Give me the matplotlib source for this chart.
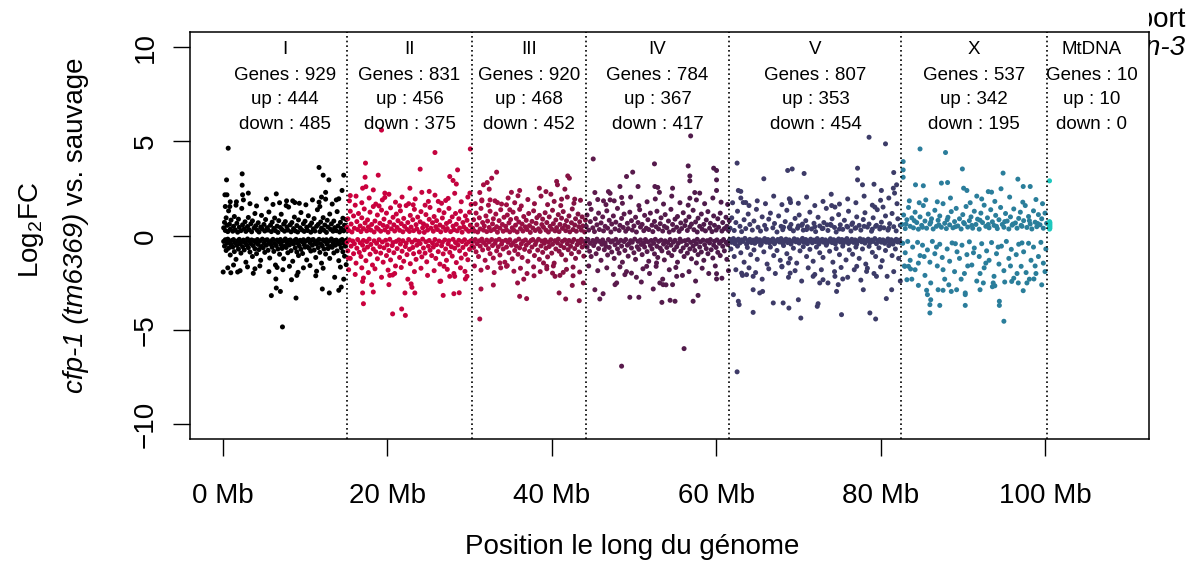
import numpy as np
import matplotlib.pyplot as plt
from matplotlib.colors import to_rgb
from matplotlib.transforms import Bbox, TransformedBbox

plt.rcParams['font.family'] = ['Liberation Sans', 'DejaVu Sans']
plt.rcParams['mathtext.default'] = 'regular'

# chromosomes (sizes in Mb) and DE summary
chrom_names = ["I", "II", "III", "IV", "V", "X", "MtDNA"]
chrom_len = [15.07, 15.28, 13.78, 17.49, 20.92, 17.72, 0.014]
n_genes = [929, 831, 920, 784, 807, 537, 10]
n_up = [444, 456, 468, 367, 353, 342, 10]
n_down = [485, 375, 452, 417, 454, 195, 0]

# (genome position in Mb, log2FC)
pts_I = [
    (0.1,.42),(0.2,.71),(0.3,.28),(0.4,.95),(0.5,.55),(0.6,.22),(0.7,1.32),(0.8,.61),(0.9,.35),(1.0,.83),(1.2,.24),(1.3,.5),(1.4,1.02),(1.5,.31),(1.7,.66),(1.8,.19),(1.9,.88),(2.0,.45),(2.2,.27),(2.3,1.45),(2.4,.58),(2.6,.37),(2.7,.74),(2.8,.23),(3.0,.49),(3.1,.97),(3.2,.32),(3.4,.63),(3.5,.21),(3.6,.79),(3.8,.41),(3.9,1.18),(4.0,.53),(4.2,.29),(4.3,.69),(4.4,.2),(4.6,.46),(4.7,1.08),(4.8,.36),(5.0,.6),(5.1,.25),(5.2,.86),(5.4,.43),(5.5,.3),(5.6,1.26),(5.8,.56),(5.9,.22),(6.0,.72),(6.2,.39),(6.3,.94),(6.4,.27),(6.6,.51),(6.7,.18),(6.8,.8),(7.0,.44),(7.1,1.14),(7.2,.33),(7.4,.62),(7.5,.24),(7.6,.75),(7.8,.47),(7.9,.3),(8.0,1.52),(8.2,.58),(8.3,.21),(8.4,.7),(8.6,.38),(8.7,.99),(8.8,.26),(9.0,.54),(9.1,.2),(9.2,.84),(9.4,.42),(9.5,1.23),(9.6,.31),(9.8,.64),(9.9,.23),(10.0,.77),(10.2,.45),(10.3,.28),(10.4,1.06),(10.6,.55),(10.7,.19),(10.8,.68),(11.0,.37),(11.1,.91),(11.2,.25),(11.4,.5),(11.5,1.38),(11.6,.6),(11.8,.22),(11.9,.73),(12.0,.4),(12.2,.96),(12.3,.29),(12.4,.57),(12.6,.18),(12.7,.82),(12.8,.46),(13.0,1.15),(13.1,.34),(13.2,.63),(13.4,.24),(13.5,.78),(13.6,.43),(13.8,.27),(13.9,1.28),(14.0,.52),(14.2,.2),(14.3,.71),(14.4,.39),(14.6,.93),(14.7,.26),(14.8,.56),(14.9,.33),(15.0,.86),
    (0.1,-.3),(0.2,-.55),(0.3,-.21),(0.4,-.78),(0.5,-.4),(0.6,-.18),(0.7,-.66),(0.8,-.33),(0.9,-1.02),(1.0,-.47),(1.1,-.25),(1.2,-.6),(1.3,-.2),(1.4,-.84),(1.5,-.38),(1.6,-1.25),(1.7,-.51),(1.8,-.27),(1.9,-.71),(2.0,-.19),(2.1,-.44),(2.2,-.92),(2.3,-.31),(2.4,-.58),(2.5,-.23),(2.6,-.75),(2.7,-.36),(2.8,-1.4),(2.9,-.49),(3.0,-.17),(3.1,-.63),(3.2,-.29),(3.3,-.86),(3.4,-.42),(3.5,-.22),(3.6,-1.1),(3.7,-.53),(3.8,-.26),(3.9,-.69),(4.0,-.35),(4.1,-.95),(4.2,-.2),(4.3,-.46),(4.4,-.73),(4.5,-.28),(4.6,-1.3),(4.7,-.57),(4.8,-.18),(4.9,-.64),(5.0,-.39),(5.1,-.88),(5.2,-.24),(5.3,-.5),(5.4,-.21),(5.5,-.77),(5.6,-.34),(5.7,-1.18),(5.8,-.45),(5.9,-.27),(6.0,-.61),(6.1,-.19),(6.2,-.83),(6.3,-.41),(6.4,-1.55),(6.5,-.52),(6.6,-.23),(6.7,-.7),(6.8,-.32),(6.9,-.98),(7.0,-.2),(7.1,-.48),(7.2,-.67),(7.3,-.29),(7.4,-1.22),(7.5,-.56),(7.6,-.17),(7.7,-.62),(7.8,-.37),(7.9,-.9),(8.0,-.25),(8.1,-.49),(8.2,-.22),(8.3,-.79),(8.4,-.35),(8.5,-1.35),(8.6,-.43),(8.7,-.26),(8.8,-.65),(8.9,-.19),(9.0,-.86),(9.1,-.4),(9.2,-1.05),(9.3,-.54),(9.4,-.24),(9.5,-.72),(9.6,-.31),(9.7,-.94),(9.8,-.21),(9.9,-.47),(10.0,-.6),(10.1,-.28),(10.2,-1.28),(10.3,-.58),(10.4,-.18),(10.5,-.66),(10.6,-.36),(10.7,-.81),(10.8,-.23),(10.9,-.5),(11.0,-.2),(11.1,-.76),(11.2,-.33),(11.3,-1.15),(11.4,-.44),(11.5,-.27),(11.6,-.63),(11.7,-.19),(11.8,-.88),(11.9,-.42),(12.0,-1.45),(12.1,-.53),(12.2,-.22),(12.3,-.7),(12.4,-.3),(12.5,-.97),(12.6,-.21),(12.7,-.46),(12.8,-.68),(12.9,-.28),(13.0,-1.2),(13.1,-.57),(13.2,-.17),(13.3,-.61),(13.4,-.38),(13.5,-.91),(13.6,-.25),(13.7,-.5),(13.8,-.23),(13.9,-.8),(14.0,-.34),(14.1,-1.32),(14.2,-.45),(14.3,-.26),(14.4,-.64),(14.5,-.2),(14.6,-.85),(14.7,-.4),(14.8,-1.08),(14.9,-.55),(15.0,-.24),
    (0.3,1.55),(0.9,1.8),(1.6,1.62),(2.5,1.9),(3.3,1.7),(4.1,1.58),(5.3,1.95),(6.1,1.66),(6.9,1.75),(7.7,1.6),(8.5,1.85),(9.3,1.72),(10.1,1.64),(10.9,1.9),(11.7,1.78),(12.5,2.3),(13.3,1.68),(14.1,1.96),(14.5,2.4),
    (0.6,-1.7),(1.3,-1.55),(2.1,-1.85),(3.0,-1.65),(3.9,-1.75),(4.5,-1.6),(5.6,-1.9),(6.6,-1.68),(7.3,-1.8),(8.1,-1.62),(9.0,-2.1),(9.8,-1.7),(10.6,-1.58),(11.4,-1.88),(12.2,-1.72),(13.6,-2.2),(14.3,-1.66),(14.7,-2.3),
    (0.65,4.64),(0.45,2.96),(2.35,3.28),(2.35,2.68),(0.5,2.17),(0.25,2.17),(3.1,2.26),(2.4,2.17),(6.5,2.22),(7.75,1.85),(8.75,1.76),(11.7,3.62),(12.2,3.21),(12.9,2.96),(14.7,3.21),(12.5,1.94),(12.0,2.05),(13.8,1.9),(11.8,1.55),(1.65,1.8),(0.85,1.55),
    (7.25,-4.83),(5.9,-3.17),(6.5,-2.77),(7.0,-2.95),(8.9,-3.3),(8.35,-2.33),(6.45,-2.29),(12.1,-2.82),(12.95,-3.03),(14.1,-2.89),(14.4,-2.72),(11.3,-2.12),(0.04,-1.92),(0.97,-1.96),(1.8,-1.92),(3.7,-1.99),(9.15,-1.94),(15.0,-1.53),
]

pts_II = [
    (15.1,.45),(15.2,.9),(15.3,.28),(15.5,1.3),(15.6,.62),(15.7,.2),(15.9,1.05),(16.0,.4),(16.1,1.62),(16.3,.75),(16.4,.33),(16.5,1.18),(16.7,.52),(16.8,.22),(16.9,.95),(17.1,.38),(17.2,1.42),(17.3,.68),(17.5,.26),(17.6,.84),(17.7,.47),(17.9,1.25),(18.0,.3),(18.1,.6),(18.3,1.55),(18.4,.2),(18.5,.78),(18.7,.43),(18.8,1.1),(18.9,.35),(19.1,.66),(19.2,.24),(19.3,1.36),(19.5,.55),(19.6,.88),(19.7,.31),(19.9,1.2),(20.0,.49),(20.1,.19),(20.3,.72),(20.4,1.48),(20.5,.37),(20.7,.98),(20.8,.58),(20.9,.25),(21.1,1.15),(21.2,.44),(21.3,.8),(21.5,.29),(21.6,1.32),(21.7,.64),(21.9,.21),(22.0,.92),(22.1,.5),(22.3,1.6),(22.4,.34),(22.5,.7),(22.7,.23),(22.8,1.08),(22.9,.46),(23.1,.85),(23.2,.27),(23.3,1.4),(23.5,.59),(23.6,.36),(23.7,.99),(23.9,.2),(24.0,.74),(24.1,1.28),(24.3,.42),(24.4,.63),(24.5,.18),(24.7,1.12),(24.8,.53),(24.9,.3),(25.1,.87),(25.2,1.5),(25.3,.4),(25.5,.69),(25.6,.24),(25.7,1.02),(25.9,.48),(26.0,.8),(26.1,.33),(26.3,1.35),(26.4,.57),(26.5,.21),(26.7,.94),(26.8,.45),(26.9,1.22),(27.1,.28),(27.2,.65),(27.3,.38),(27.5,1.45),(27.6,.76),(27.7,.22),(27.9,1.0),(28.0,.51),(28.1,.32),(28.3,1.18),(28.4,.61),(28.5,.26),(28.7,.9),(28.8,.41),(28.9,1.3),(29.1,.19),(29.2,.7),(29.3,.47),(29.5,1.05),(29.6,.35),(29.7,.82),(29.9,.24),(30.0,1.25),(30.1,.56),(30.3,.3),
    (15.4,1.85),(16.2,2.1),(16.9,1.75),(17.8,2.0),(18.6,1.68),(19.4,1.9),(20.2,2.2),(21.0,1.78),(21.8,2.05),(22.6,1.7),(23.4,1.95),(24.2,2.3),(25.0,1.82),(25.8,2.15),(26.6,1.72),(27.4,1.98),(28.2,2.25),(29.0,1.8),(29.8,2.05),(30.2,1.66),(17.4,2.6),(24.6,1.62),(19.0,1.58),
    (19.3,5.6),(17.35,3.85),(17.3,3.1),(17.0,2.52),(15.5,2.13),(18.3,2.43),(18.9,3.21),(19.7,2.26),(19.7,2.03),(25.8,4.41),(24.0,3.53),(22.75,2.52),(25.1,2.35),(27.6,3.14),(28.55,3.49),(28.0,2.93),(28.4,2.74),(30.1,4.6),(30.05,2.26),(26.2,1.82),(27.1,1.87),(21.5,1.59),(23.15,1.64),
    (15.1,-.35),(15.2,-.8),(15.4,-.22),(15.5,-1.2),(15.6,-.55),(15.8,-.28),(15.9,-.95),(16.0,-.42),(16.2,-1.45),(16.3,-.66),(16.4,-.2),(16.6,-.88),(16.7,-.37),(16.8,-1.1),(17.0,-.5),(17.1,-.25),(17.2,-.74),(17.4,-1.32),(17.5,-.31),(17.6,-.6),(17.8,-.18),(17.9,-.98),(18.0,-.46),(18.2,-1.55),(18.3,-.7),(18.4,-.27),(18.6,-.85),(18.7,-.4),(18.8,-1.22),(19.0,-.21),(19.1,-.58),(19.2,-.92),(19.4,-.33),(19.5,-1.4),(19.6,-.64),(19.8,-.24),(19.9,-1.05),(20.0,-.48),(20.2,-.78),(20.3,-.19),(20.4,-1.28),(20.6,-.52),(20.7,-.36),(20.8,-.9),(21.0,-1.6),(21.1,-.3),(21.2,-.68),(21.4,-.22),(21.5,-1.15),(21.6,-.44),(21.8,-.82),(21.9,-.26),(22.0,-1.35),(22.2,-.57),(22.3,-.39),(22.4,-1.0),(22.6,-.2),(22.7,-.72),(22.8,-1.48),(23.0,-.34),(23.1,-.62),(23.2,-.95),(23.4,-.23),(23.5,-1.25),(23.6,-.5),(23.8,-.29),(23.9,-.86),(24.0,-.41),(24.2,-1.12),(24.3,-.18),(24.4,-.65),(24.6,-.92),(24.7,-.32),(24.8,-1.38),(25.0,-.55),(25.1,-.25),(25.2,-.77),(25.4,-1.05),(25.5,-.38),(25.6,-.6),(25.8,-.2),(25.9,-1.2),(26.0,-.47),(26.2,-.84),(26.3,-.28),(26.4,-1.5),(26.6,-.53),(26.7,-.35),(26.8,-.96),(27.0,-.22),(27.1,-.7),(27.2,-1.3),(27.4,-.43),(27.5,-.26),(27.6,-.88),(27.8,-.58),(27.9,-1.08),(28.0,-.19),(28.2,-.66),(28.3,-.36),(28.4,-1.42),(28.6,-.49),(28.7,-.24),(28.8,-.8),(29.0,-1.18),(29.1,-.31),(29.2,-.62),(29.4,-.21),(29.5,-.98),(29.6,-.45),(29.8,-1.27),(29.9,-.33),(30.0,-.72),(30.2,-.25),(30.3,-.55),
    (15.3,-1.8),(16.1,-2.05),(16.9,-1.7),(17.7,-1.95),(18.5,-1.75),(19.3,-2.2),(20.1,-1.82),(20.9,-2.0),(21.7,-1.68),(22.5,-2.3),(23.3,-1.9),(24.1,-1.72),(24.9,-2.1),(25.7,-1.85),(26.5,-2.4),(27.3,-1.78),(28.1,-2.0),(28.9,-1.7),(29.7,-2.15),(18.1,-2.6),(22.9,-2.55),(26.9,-1.62),
    (17.1,-3.6),(17.0,-3.03),(17.0,-2.42),(17.1,-2.24),(18.3,-2.98),(20.65,-4.14),(21.75,-3.88),(22.2,-4.22),(20.3,-2.1),(20.65,-2.08),(20.2,-2.59),(23.35,-3.03),(22.15,-3.03),(23.0,-2.73),(26.8,-3.16),(28.1,-3.07),(28.75,-3.02),(26.4,-2.42),(27.6,-2.15),(28.2,-2.15),(29.45,-1.89),(29.5,-2.29),(15.25,-1.18),
]

pts_III = [
    (30.4,.4),(30.5,.85),(30.6,.25),(30.8,1.2),(30.9,.58),(31.0,.2),(31.2,.95),(31.3,.36),(31.4,1.45),(31.6,.7),(31.7,.3),(31.8,.52),(32.0,1.05),(32.1,.22),(32.2,.78),(32.4,.44),(32.5,1.3),(32.6,.27),(32.8,.63),(32.9,.9),(33.0,.34),(33.2,1.15),(33.3,.48),(33.4,.19),(33.6,.8),(33.7,.4),(33.8,1.38),(34.0,.6),(34.1,.24),(34.2,.98),(34.4,.5),(34.5,.31),(34.6,1.1),(34.8,.68),(34.9,.21),(35.0,.86),(35.2,.42),(35.3,1.25),(35.4,.29),(35.6,.56),(35.7,.92),(35.8,.2),(36.0,.73),(36.1,1.4),(36.2,.38),(36.4,.62),(36.5,.25),(36.6,1.02),(36.8,.47),(36.9,.82),(37.0,.33),(37.2,1.18),(37.3,.54),(37.4,.18),(37.6,.76),(37.7,.41),(37.8,1.32),(38.0,.28),(38.1,.66),(38.2,.96),(38.4,.37),(38.5,1.08),(38.6,.23),(38.8,.59),(38.9,.88),(39.0,.45),(39.2,1.22),(39.3,.3),(39.4,.7),(39.6,.2),(39.7,1.0),(39.8,.5),(40.0,.35),(40.1,1.35),(40.2,.64),(40.4,.26),(40.5,.84),(40.6,.43),(40.8,1.12),(40.9,.22),(41.0,.6),(41.2,.93),(41.3,.39),(41.4,1.28),(41.6,.55),(41.7,.27),(41.8,.8),(42.0,.46),(42.1,1.05),(42.2,.21),(42.4,.69),(42.5,1.42),(42.6,.33),(42.8,.57),(42.9,.9),(43.0,.24),(43.2,1.15),(43.3,.48),(43.4,.74),(43.6,.3),(43.7,1.0),(43.8,.52),(44.0,.2),(44.1,.83),
    (30.7,1.7),(31.5,1.9),(32.3,1.62),(33.1,1.85),(33.9,1.68),(34.7,2.0),(35.5,1.75),(36.3,1.58),(37.1,1.92),(37.9,1.7),(38.7,2.1),(39.5,1.65),(40.3,1.82),(41.1,1.6),(41.9,2.05),(42.7,1.72),(43.5,1.88),(35.1,2.3),(39.9,2.2),
    (33.3,3.37),(32.15,2.82),(32.7,3.05),(31.7,2.7),(31.25,2.29),(32.4,2.47),(31.5,1.85),(32.5,1.9),(33.4,1.76),(36.1,2.4),(35.9,2.12),(38.5,2.52),(39.3,2.34),(40.6,2.88),(40.7,2.7),(41.95,3.17),(42.15,3.05),(41.6,2.47),(41.2,1.94),(42.8,1.94),(34.5,1.64),(34.9,1.38),
    (30.4,-.3),(30.5,-.62),(30.7,-.2),(30.8,-.85),(30.9,-.42),(31.1,-1.1),(31.2,-.27),(31.3,-.55),(31.5,-.18),(31.6,-.75),(31.7,-.36),(31.9,-1.3),(32.0,-.48),(32.1,-.23),(32.3,-.68),(32.4,-.32),(32.5,-.95),(32.7,-.2),(32.8,-.52),(32.9,-1.18),(33.1,-.4),(33.2,-.26),(33.3,-.8),(33.5,-.58),(33.6,-.19),(33.7,-1.02),(33.9,-.44),(34.0,-.3),(34.1,-.7),(34.3,-1.4),(34.4,-.24),(34.5,-.6),(34.7,-.35),(34.8,-.9),(34.9,-.21),(35.1,-.5),(35.2,-1.22),(35.3,-.38),(35.5,-.78),(35.6,-.27),(35.7,-.55),(35.9,-.98),(36.0,-.18),(36.1,-.64),(36.3,-.43),(36.4,-1.15),(36.5,-.29),(36.7,-.72),(36.8,-.22),(36.9,-.5),(37.1,-1.35),(37.2,-.37),(37.3,-.83),(37.5,-.25),(37.6,-.6),(37.7,-.2),(37.9,-1.05),(38.0,-.46),(38.1,-.32),(38.3,-.76),(38.4,-.19),(38.5,-1.25),(38.7,-.54),(38.8,-.28),(38.9,-.88),(39.1,-.4),(39.2,-.23),(39.3,-.66),(39.5,-1.12),(39.6,-.34),(39.7,-.57),(39.9,-.21),(40.0,-.92),(40.1,-.45),(40.3,-1.45),(40.4,-.26),(40.5,-.7),(40.7,-.38),(40.8,-.18),(40.9,-.82),(41.1,-.52),(41.2,-1.0),(41.3,-.3),(41.5,-.63),(41.6,-.22),(41.7,-1.28),(41.9,-.42),(42.0,-.74),(42.1,-.25),(42.3,-.56),(42.4,-.95),(42.5,-.33),(42.7,-.2),(42.8,-.68),(42.9,-1.2),(43.1,-.47),(43.2,-.29),(43.3,-.86),(43.5,-.37),(43.6,-.19),(43.7,-.6),(43.9,-1.08),(44.0,-.31),(44.1,-.5),
    (30.6,-1.6),(31.4,-1.82),(32.2,-1.68),(33.0,-1.95),(33.8,-1.7),(34.6,-1.58),(35.4,-1.88),(36.2,-1.72),(37.0,-2.0),(37.8,-1.65),(38.6,-1.9),(39.4,-1.75),(40.2,-1.6),(41.0,-2.1),(41.8,-1.78),(42.6,-1.66),(43.4,-1.92),(36.6,-2.3),
    (31.25,-4.41),(31.4,-2.82),(32.9,-2.61),(35.85,-2.5),(36.1,-3.21),(36.95,-3.33),(37.85,-2.12),(40.1,-1.98),(40.4,-2.15),(41.4,-1.94),(40.9,-3.03),(41.7,-3.35),(42.5,-2.63),(42.6,-2.12),(43.35,-3.44),(43.85,-2.5),(33.7,-1.44),(34.5,-1.62),(39.0,-1.44),(39.4,-1.62),
]

pts_IV = [
    (44.2,.5),(44.3,1.1),(44.5,.3),(44.7,.75),(44.8,1.4),(45.0,.42),(45.2,.22),(45.3,.9),(45.5,.58),(45.7,1.2),(45.8,.33),(46.0,.68),(46.2,1.0),(46.3,.26),(46.5,.5),(46.7,1.32),(46.8,.4),(47.0,.82),(47.2,.2),(47.3,.62),(47.5,1.05),(47.7,.36),(47.8,.72),(48.0,1.45),(48.2,.28),(48.3,.55),(48.5,.92),(48.7,.44),(48.8,1.15),(49.0,.24),(49.2,.66),(49.3,.38),(49.5,1.25),(49.7,.8),(49.8,.3),(50.0,.52),(50.2,.98),(50.3,.2),(50.5,.7),(50.7,1.38),(50.8,.46),(51.0,.6),(51.2,.27),(51.3,1.08),(51.5,.4),(51.7,.85),(51.8,.33),(52.0,1.2),(52.2,.56),(52.3,.22),(52.5,.76),(52.7,.48),(52.8,1.3),(53.0,.36),(53.2,.64),(53.3,.95),(53.5,.25),(53.7,.5),(53.8,1.12),(54.0,.42),(54.2,.78),(54.3,.2),(54.5,1.4),(54.7,.6),(54.8,.3),(55.0,.88),(55.2,.45),(55.3,1.02),(55.5,.23),(55.7,.68),(55.8,.38),(56.0,1.22),(56.2,.54),(56.3,.8),(56.5,.28),(56.7,1.0),(56.8,.47),(57.0,.62),(57.2,1.35),(57.3,.32),(57.5,.73),(57.7,.2),(57.8,.93),(58.0,.5),(58.2,1.15),(58.3,.35),(58.5,.6),(58.7,.26),(58.8,.84),(59.0,1.28),(59.2,.4),(59.3,.66),(59.5,.22),(59.7,1.05),(59.8,.55),(60.0,.3),(60.2,.9),(60.3,.45),(60.5,1.2),(60.7,.25),(60.8,.7),(61.0,.38),(61.2,.98),(61.3,.5),(61.5,.28),(61.6,.8),
    (44.6,1.7),(45.6,1.92),(46.6,1.65),(47.6,1.85),(48.6,1.72),(49.6,2.05),(50.6,1.6),(51.6,1.8),(52.6,1.95),(53.6,1.68),(54.6,2.1),(55.6,1.75),(56.6,1.62),(57.6,1.9),(58.6,1.7),(59.6,2.0),(60.6,1.78),(61.4,1.66),(53.1,2.3),(47.1,2.25),
    (45.05,4.07),(56.9,5.29),(52.5,3.81),(56.6,3.7),(56.8,3.17),(56.8,2.91),(49.85,3.37),(49.1,3.14),(59.7,3.58),(60.05,3.46),(60.05,2.96),(60.05,2.4),(52.55,2.61),(52.9,2.56),(50.5,2.61),(48.3,2.61),(54.7,2.52),(56.8,1.99),(57.4,2.29),(58.0,2.26),(46.9,2.34),(45.25,2.29),(46.3,1.85),(47.1,1.9),(48.5,2.03),
    (44.2,-.28),(44.3,-.6),(44.4,-.2),(44.6,-.82),(44.7,-.4),(44.8,-1.1),(45.0,-.25),(45.1,-.52),(45.3,-.35),(45.4,-.95),(45.5,-.18),(45.7,-.68),(45.8,-.3),(46.0,-1.3),(46.1,-.45),(46.2,-.22),(46.4,-.74),(46.5,-.38),(46.6,-.56),(46.8,-1.02),(46.9,-.2),(47.0,-.62),(47.2,-.33),(47.3,-.86),(47.4,-.27),(47.6,-1.2),(47.7,-.48),(47.8,-.19),(48.0,-.7),(48.1,-.36),(48.2,-.92),(48.4,-.24),(48.5,-.55),(48.6,-1.4),(48.8,-.31),(48.9,-.78),(49.0,-.2),(49.2,-.5),(49.3,-1.08),(49.4,-.42),(49.6,-.26),(49.7,-.65),(49.8,-.34),(50.0,-.9),(50.1,-.18),(50.2,-1.25),(50.4,-.58),(50.5,-.3),(50.6,-.72),(50.8,-.22),(50.9,-.46),(51.0,-1.0),(51.2,-.38),(51.3,-.6),(51.4,-.2),(51.6,-.84),(51.7,-.32),(51.8,-1.35),(52.0,-.52),(52.1,-.25),(52.2,-.7),(52.4,-.4),(52.5,-.96),(52.6,-.19),(52.8,-.56),(52.9,-1.15),(53.0,-.3),(53.2,-.66),(53.3,-.23),(53.4,-.8),(53.6,-.44),(53.7,-1.28),(53.8,-.27),(54.0,-.62),(54.1,-.36),(54.2,-.9),(54.4,-.2),(54.5,-.5),(54.6,-1.05),(54.8,-.34),(54.9,-.74),(55.0,-.24),(55.2,-.58),(55.3,-1.4),(55.4,-.4),(55.6,-.18),(55.7,-.82),(55.8,-.3),(56.0,-.64),(56.1,-1.1),(56.2,-.26),(56.4,-.48),(56.5,-.92),(56.6,-.21),(56.8,-.7),(56.9,-.35),(57.0,-1.22),(57.2,-.55),(57.3,-.28),(57.4,-.78),(57.6,-.42),(57.7,-.19),(57.8,-1.0),(58.0,-.6),(58.1,-.32),(58.2,-.86),(58.4,-.23),(58.5,-1.3),(58.6,-.47),(58.8,-.68),(58.9,-.26),(59.0,-.95),(59.2,-.38),(59.3,-.2),(59.4,-.74),(59.6,-1.18),(59.7,-.5),(59.8,-.29),(60.0,-.62),(60.1,-.22),(60.2,-.88),(60.4,-.4),(60.5,-1.05),(60.6,-.3),(60.8,-.56),(60.9,-.2),(61.0,-.8),(61.2,-.35),(61.3,-1.25),(61.4,-.46),(61.6,-.25),
    (44.5,-1.6),(45.6,-1.85),(46.7,-1.7),(47.5,-2.05),(48.3,-1.65),(49.1,-1.9),(50.3,-2.2),(51.1,-1.75),(51.9,-2.0),(52.7,-1.62),(53.5,-2.3),(54.3,-1.8),(55.1,-1.68),(55.9,-2.1),(56.7,-1.9),(57.5,-2.4),(58.3,-1.72),(59.1,-2.0),(59.9,-1.6),(60.7,-2.25),(61.5,-1.85),(53.9,-2.6),(50.9,-2.45),
    (56.1,-5.98),(48.5,-6.91),(49.5,-3.26),(50.6,-3.26),(53.4,-3.53),(54.4,-3.42),(55.0,-3.47),(57.2,-3.47),(57.8,-3.16),(45.85,-3.35),(46.25,-3.07),(47.7,-2.59),(47.9,-2.5),(48.9,-2.06),(49.7,-1.98),(52.35,-2.82),(53.15,-2.5),(53.55,-2.59),(54.7,-2.59),(60.05,-2.01),(60.05,-2.29),(51.55,-1.62),(52.75,-1.44),(55.2,-2.15),(57.6,-1.44),(45.25,-2.86),
]

pts_V = [
    (61.7,.4),(61.9,.95),(62.2,.28),(62.4,.7),(62.6,1.3),(62.9,.5),(63.1,.22),(63.4,.85),(63.6,.38),(63.9,1.15),(64.1,.6),(64.4,.3),(64.6,.78),(64.9,1.4),(65.1,.45),(65.4,.25),(65.6,1.0),(65.9,.55),(66.1,.35),(66.4,.88),(66.6,1.2),(66.9,.42),(67.1,.65),(67.4,.2),(67.6,1.05),(67.9,.5),(68.1,.32),(68.4,.75),(68.6,1.35),(68.9,.45),(69.1,.6),(69.4,.26),(69.6,.92),(69.9,.4),(70.1,1.1),(70.4,.55),(70.6,.3),(70.9,.8),(71.1,.48),(71.4,1.25),(71.6,.36),(71.9,.66),(72.1,.22),(72.4,.98),(72.6,.52),(72.9,.38),(73.1,.7),(73.4,1.45),(73.6,.28),(73.9,.6),(74.1,.9),(74.4,.44),(74.6,.2),(74.9,1.12),(75.1,.58),(75.4,.34),(75.6,.82),(75.9,.5),(76.1,1.3),(76.4,.25),(76.6,.68),(76.9,.4),(77.1,1.0),(77.4,.55),(77.6,.3),(77.9,.86),(78.1,1.22),(78.4,.46),(78.6,.62),(78.9,.24),(79.1,.95),(79.4,.5),(79.6,1.38),(79.9,.36),(80.1,.72),(80.4,.42),(80.6,1.05),(80.9,.3),(81.1,.64),(81.4,1.18),(81.6,.48),(81.9,.26),(82.1,.9),(82.4,.55),
    (68.2,.45),(69.0,.38),(70.0,.52),(71.0,.33),(72.0,.48),(73.0,.4),(74.0,.55),(75.0,.36),(76.0,.46),(77.0,.42),(78.0,.5),(79.0,.35),(80.0,.45),(81.0,.4),(70.5,.62),(73.5,.58),(76.5,.6),(79.5,.55),
    (62.0,1.75),(63.0,2.0),(64.0,1.6),(65.0,1.85),(66.0,1.7),(67.0,2.1),(68.0,1.65),(69.0,1.9),(70.0,1.72),(71.0,2.05),(72.0,1.6),(73.0,1.82),(74.0,2.2),(75.0,1.68),(76.0,1.95),(77.0,1.75),(78.0,2.1),(79.0,1.62),(80.0,1.88),(81.0,2.0),(82.0,1.7),
    (62.55,3.85),(65.8,3.02),(68.7,3.46),(69.25,3.54),(70.7,3.3),(78.6,5.22),(80.6,4.87),(81.6,3.35),(77.2,3.58),(77.2,2.96),(77.8,2.7),(79.2,2.73),(80.1,2.4),(81.55,2.52),(81.7,2.26),(81.95,2.7),(62.7,2.4),(63.0,2.35),(63.3,1.76),(63.6,1.76),(68.9,1.96),(69.05,1.76),(74.05,1.6),(74.45,1.52),(79.3,1.52),(80.3,1.52),
    (61.7,-.2),(61.9,-.35),(62.1,-.15),(62.3,-.42),(62.5,-.25),(62.7,-.18),(62.9,-.38),(63.1,-.22),(63.3,-.3),(63.5,-.14),(63.7,-.45),(63.9,-.26),(64.1,-.19),(64.3,-.36),(64.5,-.23),(64.7,-.4),(64.9,-.16),(65.1,-.3),(65.3,-.21),(65.5,-.43),(65.7,-.27),(65.9,-.15),(66.1,-.34),(66.3,-.2),(66.5,-.38),(66.7,-.24),(66.9,-.17),(67.1,-.42),(67.3,-.28),(67.5,-.2),(67.7,-.33),(67.9,-.15),(68.1,-.4),(68.3,-.25),(68.5,-.18),(68.7,-.36),(68.9,-.22),(69.1,-.44),(69.3,-.29),(69.5,-.16),(69.7,-.32),(69.9,-.21),(70.1,-.39),(70.3,-.26),(70.5,-.14),(70.7,-.35),(70.9,-.2),(71.1,-.42),(71.3,-.27),(71.5,-.18),(71.7,-.37),(71.9,-.23),(72.1,-.31),(72.3,-.15),(72.5,-.44),(72.7,-.25),(72.9,-.19),(73.1,-.34),(73.3,-.22),(73.5,-.4),(73.7,-.28),(73.9,-.16),(74.1,-.36),(74.3,-.21),(74.5,-.43),(74.7,-.26),(74.9,-.17),(75.1,-.33),(75.3,-.2),(75.5,-.38),(75.7,-.24),(75.9,-.15),(76.1,-.41),(76.3,-.29),(76.5,-.19),(76.7,-.35),(76.9,-.22),(77.1,-.45),(77.3,-.27),(77.5,-.16),(77.7,-.32),(77.9,-.21),(78.1,-.39),(78.3,-.25),(78.5,-.18),(78.7,-.37),(78.9,-.23),(79.1,-.3),(79.3,-.15),(79.5,-.42),(79.7,-.26),(79.9,-.2),(80.1,-.34),(80.3,-.22),(80.5,-.4),(80.7,-.28),(80.9,-.17),(81.1,-.36),(81.3,-.21),(81.5,-.44),(81.7,-.27),(81.9,-.19),(82.1,-.33),(82.3,-.23),(82.5,-.38),
    (62.0,-.28),(63.0,-.3),(64.0,-.32),(65.0,-.26),(66.0,-.29),(67.0,-.31),(68.0,-.27),(69.0,-.33),(70.0,-.28),(71.0,-.3),(72.0,-.26),(73.0,-.32),(74.0,-.29),(75.0,-.27),(76.0,-.31),(77.0,-.28),(78.0,-.3),(79.0,-.26),(80.0,-.3),(81.0,-.28),(82.0,-.31),(68.6,-.3),(70.6,-.3),(72.6,-.31),(74.6,-.29),(76.6,-.3),(78.6,-.28),
    (61.8,-.7),(62.2,-1.1),(62.6,-.55),(63.0,-.9),(63.4,-1.4),(63.8,-.62),(64.2,-1.0),(64.6,-.75),(65.0,-1.25),(65.4,-.5),(65.8,-.85),(66.2,-1.5),(66.6,-.6),(67.0,-1.05),(67.4,-.78),(67.8,-1.3),(68.2,-.52),(68.6,-.95),(69.0,-1.2),(69.4,-.66),(69.8,-1.45),(70.2,-.8),(70.6,-.58),(71.0,-1.1),(71.4,-.72),(71.8,-1.35),(72.2,-.6),(72.6,-.9),(73.0,-1.15),(73.4,-.5),(73.8,-.82),(74.2,-1.4),(74.6,-.68),(75.0,-1.0),(75.4,-.55),(75.8,-1.28),(76.2,-.75),(76.6,-.98),(77.0,-.6),(77.4,-1.2),(77.8,-.7),(78.2,-1.5),(78.6,-.56),(79.0,-.88),(79.4,-1.1),(79.8,-.64),(80.2,-1.32),(80.6,-.78),(81.0,-.52),(81.4,-1.05),(81.8,-.7),(82.2,-1.2),
    (62.4,-1.8),(63.2,-2.1),(64.0,-1.7),(64.8,-1.95),(65.6,-2.3),(66.4,-1.75),(67.2,-2.0),(68.0,-1.65),(68.8,-2.2),(69.6,-1.85),(70.4,-2.4),(71.2,-1.7),(72.0,-2.05),(72.8,-1.8),(73.6,-2.5),(74.4,-1.9),(75.2,-1.68),(76.0,-2.2),(76.8,-1.8),(77.6,-2.35),(78.4,-1.72),(79.2,-2.0),(80.0,-1.65),(80.8,-2.15),(81.6,-1.9),(82.4,-2.4),
    (62.55,-7.21),(64.5,-4.06),(70.3,-4.36),(75.25,-4.18),(78.7,-4.09),(79.4,-4.41),(66.95,-3.56),(68.15,-3.56),(68.85,-3.83),(70.0,-3.39),(72.3,-3.74),(72.4,-3.6),(74.65,-2.95),(74.85,-2.59),(77.9,-2.86),(80.7,-3.33),(81.35,-2.86),(62.7,-3.47),(62.8,-3.65),(62.1,-3.12),(64.5,-2.86),(65.3,-3.03),(65.65,-2.95),(63.1,-1.98),(63.7,-2.06),(64.5,-2.15),(68.0,-1.62),(68.8,-1.44),(69.0,-1.98),(71.8,-2.15),(72.6,-2.5),(73.0,-2.33),(74.45,-2.15),(75.4,-2.29),(77.1,-1.62),(78.3,-1.89),(79.5,-2.15),
]

pts_X = [
    (82.6,.6),(82.8,1.1),(83.0,.38),(83.2,.85),(83.4,1.5),(83.6,.5),(83.8,.95),(84.0,.42),(84.2,1.25),(84.4,.7),(84.6,.35),(84.8,1.0),(85.0,.55),(85.2,1.6),(85.4,.78),(85.6,.4),(85.8,1.15),(86.0,.62),(86.2,.9),(86.4,.36),(86.6,1.35),(86.8,.5),(87.0,.82),(87.2,1.05),(87.4,.45),(87.6,1.7),(87.8,.66),(88.0,.38),(88.2,.98),(88.4,.58),(88.6,1.28),(88.8,.42),(89.0,.75),(89.2,1.45),(89.4,.52),(89.6,.9),(89.8,.36),(90.0,1.12),(90.2,.64),(90.4,1.55),(90.6,.46),(90.8,.8),(91.0,1.0),(91.2,.4),(91.4,1.3),(91.6,.6),(91.8,.88),(92.0,.35),(92.2,1.2),(92.4,.7),(92.6,1.62),(92.8,.5),(93.0,.95),(93.2,.42),(93.4,1.38),(93.6,.74),(93.8,.55),(94.0,1.08),(94.2,.38),(94.4,.85),(94.6,1.5),(94.8,.6),(95.0,.45),(95.2,1.18),(95.4,.78),(95.6,.36),(95.8,1.0),(96.0,.56),(96.2,1.42),(96.4,.68),(96.6,.4),(96.8,.92),(97.0,1.25),(97.2,.5),(97.4,.8),(97.6,1.6),(97.8,.44),(98.0,1.02),(98.2,.62),(98.4,.36),(98.6,1.32),(98.8,.72),(99.0,.48),(99.2,1.12),(99.4,.58),(99.6,.9),(99.8,.4),(100.0,1.2),(100.2,.66),
    (83.1,.62),(84.1,.8),(85.1,.45),(86.1,.72),(87.1,.58),(88.1,.85),(89.1,.48),(90.1,.7),(91.1,.55),(92.1,.82),(93.1,.6),(94.1,.5),(95.1,.75),(96.1,.62),(97.1,.55),(98.1,.8),(99.1,.65),(83.5,1.85),(85.5,1.9),(86.9,1.8),(88.5,2.0),(90.9,1.75),(92.3,1.95),(93.9,1.82),(95.7,2.05),(97.3,1.78),(98.9,1.92),(99.7,1.7),(84.7,1.75),(91.7,2.1),
    (84.8,4.6),(87.9,4.41),(89.95,3.54),(94.9,3.32),(96.7,3.0),(82.75,3.93),(82.75,3.49),(82.75,3.1),(84.25,2.7),(85.2,2.65),(87.4,2.79),(88.15,2.82),(90.1,2.52),(90.5,2.4),(94.65,2.49),(97.35,2.61),(98.2,2.61),(93.1,2.34),(93.5,2.31),
    (82.7,-.4),(83.0,-.9),(83.3,-.3),(83.6,-1.3),(83.9,-.6),(84.2,-1.8),(84.5,-.35),(84.8,-1.05),(85.1,-.5),(85.4,-2.1),(85.7,-.75),(86.0,-1.4),(86.3,-.3),(86.6,-.95),(86.9,-1.6),(87.2,-.45),(87.5,-1.15),(87.8,-2.3),(88.1,-.7),(88.4,-1.35),(88.7,-.38),(89.0,-1.9),(89.3,-.85),(89.6,-1.2),(89.9,-.5),(90.2,-2.0),(90.5,-1.0),(90.8,-.32),(91.1,-1.55),(91.4,-.65),(91.7,-2.4),(92.0,-1.1),(92.3,-.42),(92.6,-1.7),(92.9,-.8),(93.2,-1.3),(93.5,-.36),(93.8,-2.15),(94.1,-.95),(94.4,-1.5),(94.7,-.55),(95.0,-1.85),(95.3,-.3),(95.6,-1.2),(95.9,-.72),(96.2,-2.25),(96.5,-1.0),(96.8,-.45),(97.1,-1.62),(97.4,-.85),(97.7,-1.95),(98.0,-.4),(98.3,-1.3),(98.6,-.6),(98.9,-2.0),(99.2,-1.1),(99.5,-.35),(99.8,-1.45),(100.1,-.7),
    (82.9,-1.6),(83.8,-2.3),(84.6,-1.45),(85.3,-1.1),(86.1,-2.5),(86.8,-.6),(87.6,-1.8),(88.3,-2.6),(89.1,-.42),(89.8,-2.3),(90.6,-1.6),(91.3,-.9),(92.1,-2.0),(92.8,-1.45),(93.6,-2.7),(94.3,-.6),(95.1,-2.45),(95.8,-1.6),(96.6,-2.0),(97.2,-.38),(98.1,-2.3),(98.8,-1.6),(99.6,-2.6),(100.0,-1.9),
    (95.0,-4.53),(86.0,-4.09),(86.0,-3.65),(86.1,-3.39),(87.2,-3.69),(90.3,-3.69),(90.3,-3.12),(90.3,-3.03),(94.45,-3.47),(94.45,-3.69),(97.35,-2.91),(97.8,-2.5),(84.6,-2.63),(85.6,-2.89),(85.7,-3.12),(87.0,-2.86),(87.6,-2.89),(88.6,-2.95),(89.25,-2.86),(92.1,-2.86),(92.5,-2.5),(93.7,-2.5),(93.9,-2.65),(95.95,-2.42),(96.75,-2.5),(98.65,-2.29),(83.2,-2.33),(83.4,-1.62),(83.65,-1.76),(82.95,-1.62),
]

pts_Mt = [
    (100.55,2.91),(100.55,.75),(100.6,.7),(100.55,.65),(100.6,.6),(100.55,.55),(100.6,.5),(100.55,.45),(100.6,.4),(100.55,.35),
]

all_pts = [pts_I, pts_II, pts_III, pts_IV, pts_V, pts_X, pts_Mt]

# colour at start / end of each chromosome
col_start = ["#000000", "#CC003D", "#AC0C43", "#5E1A4C", "#3E3A68", "#2B7D9C", "#1EC8BE"]
col_end = ["#000000", "#C2043F", "#7E1342", "#4B1B4B", "#3C3C68", "#2A7E9A", "#1EC8BE"]

ends = np.cumsum(chrom_len)
starts = ends - np.array(chrom_len)

fig = plt.figure(figsize=(12, 5.64), dpi=100)
ax = fig.add_axes([0.1583, 0.2216, 0.7992, 0.7211])

for i, pts in enumerate(all_pts):
    arr = np.array(pts)
    t = np.clip((arr[:, 0] - starts[i]) / max(chrom_len[i], 1e-6), 0, 1)[:, None]
    cols = np.array(to_rgb(col_start[i])) * (1 - t) + np.array(to_rgb(col_end[i])) * t
    ax.scatter(arr[:, 0], arr[:, 1], s=13, c=cols, linewidths=0, zorder=2)

for e in ends[:-1]:
    ax.axvline(e, color="black", lw=1.2, linestyle=(0, (1, 1.8)), zorder=3)

text_y = [9.88, 8.5, 7.22, 5.92]
for i, name in enumerate(chrom_names):
    xc = starts[i] + chrom_len[i] / 2
    if name == "MtDNA":
        xc = ends[i] + 5.4
    lines = [name, f"Genes : {n_genes[i]}", f"up : {n_up[i]}", f"down : {n_down[i]}"]
    for ty, s in zip(text_y, lines):
        ax.text(xc, ty, s, ha="center", va="center", fontsize=13.5, zorder=4)

ax.set_xlim(-4.0, 112.65)
ax.set_ylim(-10.77, 10.78)
ax.set_xticks([0, 20, 40, 60, 80, 100])
ax.set_xticklabels([f"{v} Mb" for v in [0, 20, 40, 60, 80, 100]])
ax.set_yticks([-10, -5, 0, 5, 10])
ax.set_yticklabels(["\u221210", "\u22125", "0", "5", "10"])
ax.tick_params(axis="both", length=12.5, width=1.0, labelsize=20)
ax.tick_params(axis="x", pad=19)
ax.tick_params(axis="y", labelrotation=90, pad=10)
for lab in ax.get_yticklabels():
    lab.set_verticalalignment("center")
for sp in ax.spines.values():
    sp.set_linewidth(1.1)

fig.text(632 / 1200, 1 - 547 / 564, "Position le long du g\u00e9nome", ha="center", va="center", fontsize=20)
fig.text(31 / 1200, 1 - 230 / 564, "Log$_2$FC", rotation=90, ha="center", va="center", fontsize=20)

# second y-label line: italic genotype followed by plain text
renderer = fig.canvas.get_renderer()
y0 = 1 - 393 / 564
t_it = fig.text(76 / 1200, y0, "cfp-1 (tm6369)", rotation=90, style="italic",
                ha="center", va="bottom", fontsize=20)
h = t_it.get_window_extent(renderer).height / fig.bbox.height
fig.text(76 / 1200, y0 + h, " vs. sauvage", rotation=90, ha="center", va="bottom", fontsize=20)

# partly hidden legend title on the right
clip = TransformedBbox(Bbox.from_extents(1149 / 1200, 0, 1, 1), fig.transFigure)
t1 = fig.text(1186 / 1200, 1 - 20 / 564, "Rapport", ha="right", va="center", fontsize=20)
t2 = fig.text(1186 / 1200, 1 - 48 / 564, "sin-3", ha="right", va="center", fontsize=20, style="italic")
for t in (t1, t2):
    t.set_clip_on(True)
    t.set_clip_box(clip)

fig.savefig("out.png", dpi=100)
